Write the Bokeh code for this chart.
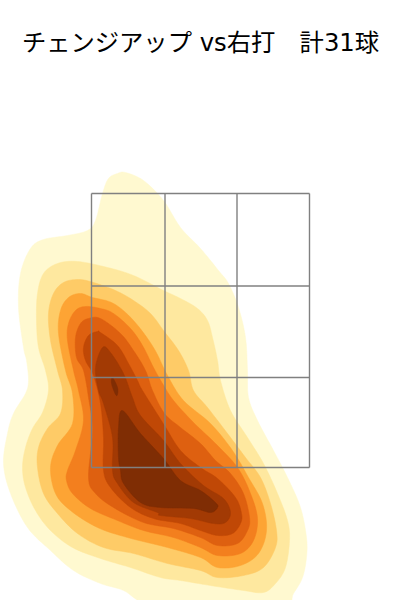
import numpy as np
from bokeh.plotting import figure
from bokeh.models import Range1d, Title
from bokeh.embed import file_html
from bokeh.resources import INLINE

TITLE = "チェンジアップ vs右打　計31球"
COLORS = ["#fff9d0", "#fee89f", "#fecb67", "#fda434", "#f37f1e", "#de6010", "#c04806", "#a23a04", "#7f2d04"]

# density outlines, lightest level first (location units)
LEVEL1 = [(-75,428),(-57,420),(-37,400),(-20,373),(0,352),(18,330),(28,317),(38,293),(45,263),(47,230),(48,203),(57,180),(73,150),(87,123),(100,93),(106,63),(106,43),(102,23),(93,7),(80,-12),(0,-25),(-55,-4),(-77,10),(-100,17),(-127,30),(-150,50),(-173,73),(-190,107),(-197,137),(-193,167),(-187,187),(-175,207),(-172,220),(-174,240),(-177,253),(-182,293),(-180,327),(-170,352),(-157,361),(-133,365),(-113,370),(-105,380),(-98,407),(-92,422),(-83,427)]
LEVEL2 = [(-123,339),(-93,333),(-67,325),(-37,310),(-20,302),(-3,292),(7,280),(12,263),(17,240),(20,220),(30,190),(47,163),(63,137),(77,107),(87,80),(89,60),(85,33),(75,17),(63,8),(43,10),(10,15),(-20,20),(-40,23),(-70,33),(-100,42),(-128,53),(-150,70),(-165,90),(-175,113),(-178,133),(-175,153),(-168,172),(-158,188),(-152,210),(-155,230),(-162,253),(-164,280),(-163,307),(-157,327),(-143,337)]
LEVEL3 = [(-122,321),(-107,318),(-85,310),(-67,300),(-50,287),(-37,270),(-22,250),(-12,230),(-7,210),(7,193),(27,167),(45,143),(60,123),(70,97),(76,70),(75,53),(63,33),(43,25),(17,23),(0,30),(-33,37),(-67,47),(-97,53),(-123,67),(-143,87),(-157,107),(-163,133),(-162,153),(-153,172),(-140,187),(-138,210),(-143,230),(-150,260),(-152,287),(-147,307),(-137,318)]
LEVEL4 = [(-120,307),(-108,303),(-87,297),(-67,280),(-47,253),(-33,225),(-17,200),(10,177),(32,150),(48,123),(62,97),(66,70),(58,47),(40,35),(17,33),(0,43),(-33,53),(-73,63),(-103,73),(-130,90),(-145,107),(-150,133),(-143,155),(-128,177),(-128,207),(-135,230),(-142,267),(-140,290),(-132,303)]
LEVEL5 = [(-115,294),(-100,292),(-87,287),(-70,272),(-58,255),(-47,233),(-38,217),(-27,200),(-7,178),(15,157),(37,133),(50,107),(57,82),(53,60),(40,47),(17,45),(0,53),(-27,63),(-57,70),(-83,80),(-110,92),(-128,107),(-134,120),(-133,130),(-125,150),(-117,180),(-122,210),(-127,230),(-133,260),(-132,277),(-125,290)]
LEVEL6 = [(-112,282),(-100,282),(-80,267),(-67,250),(-55,230),(-48,210),(-36,187),(-20,173),(0,157),(15,140),(30,127),(43,107),(49,83),(47,70),(37,57),(17,55),(0,63),(-27,72),(-57,78),(-87,93),(-105,107),(-112,123),(-108,170),(-112,203),(-117,230),(-124,243),(-125,263),(-120,277)]
LEVEL7 = [(-103,269),(-100,268),(-83,255),(-72,237),(-63,220),(-58,210),(-36,175),(-20,150),(0,133),(17,122),(35,103),(41,87),(40,77),(32,67),(17,65),(0,70),(-20,77),(-47,82),(-70,93),(-90,113),(-97,130),(-97,163),(-100,197),(-107,225),(-115,240),(-117,253),(-112,265)]
LEVEL8 = [(-98,253),(-90,248),(-77,227),(-68,203),(-60,185),(-37,160),(-20,137),(3,115),(23,102),(30,88),(25,78),(13,77),(-10,82),(-40,85),(-43,88),(-67,98),(-83,117),(-88,130),(-88,163),(-97,197),(-102,210),(-105,233)]
LEVEL9A = [(-78,190),(-60,167),(-37,142),(-20,120),(0,110),(15,98),(17,93),(10,88),(-7,92),(-40,93),(-60,98),(-77,117),(-80,130),(-82,143),(-82,173)]
LEVEL9B = [(-88,223),(-83,213),(-83,206),(-85,206),(-89,217)]
LEVELS = [LEVEL1, LEVEL2, LEVEL3, LEVEL4, LEVEL5, LEVEL6, LEVEL7, LEVEL8, LEVEL9A, LEVEL9B]
LEVEL_COLORS = COLORS + [COLORS[-1]]

ZONE_X = [-109, -35.5, 36.5, 109]
ZONE_Y = [133, 223, 314.5, 407]


def smooth(points, n=8):
    """Closed Catmull-Rom curve through the traced points."""
    pts = np.array(points, dtype=float)
    t = np.linspace(0, 1, n, endpoint=False)[:, None]
    out = []
    for i in range(len(pts)):
        p0, p1, p2, p3 = pts[i - 1], pts[i], pts[(i + 1) % len(pts)], pts[(i + 2) % len(pts)]
        out.append(0.5 * (2 * p1 + (p2 - p0) * t + (2 * p0 - 5 * p1 + 4 * p2 - p3) * t ** 2
                          + (3 * p1 - p0 - 3 * p2 + p3) * t ** 3))
    out = np.vstack(out)
    return out[:, 0], out[:, 1]


p = figure(width=400, height=600, output_backend="svg", toolbar_location=None,
           x_range=Range1d(-200, 200), y_range=Range1d(0, 540), min_border=0,
           min_border_top=60, outline_line_color=None, background_fill_color="white",
           border_fill_color="white")
p.axis.visible = False
p.grid.visible = False
p.title = Title(text=TITLE, align="center", text_font="DejaVu Sans, Noto Sans CJK JP", text_font_size="24.3px",
                text_font_style="normal", text_color="#000000", standoff=7)

for outline, color in zip(LEVELS, LEVEL_COLORS):
    xs, ys = smooth(outline)
    p.patch(xs, ys, fill_color=color, fill_alpha=1.0, line_color=color, line_alpha=1.0, line_width=0.5)

grid_xs = [[x, x] for x in ZONE_X] + [[ZONE_X[0], ZONE_X[-1]] for _ in ZONE_Y]
grid_ys = [[ZONE_Y[0], ZONE_Y[-1]] for _ in ZONE_X] + [[y, y] for y in ZONE_Y]
p.multi_line(grid_xs, grid_ys, line_color="#808080", line_width=1.4)

open("out.html", "w").write(file_html(p, INLINE))
